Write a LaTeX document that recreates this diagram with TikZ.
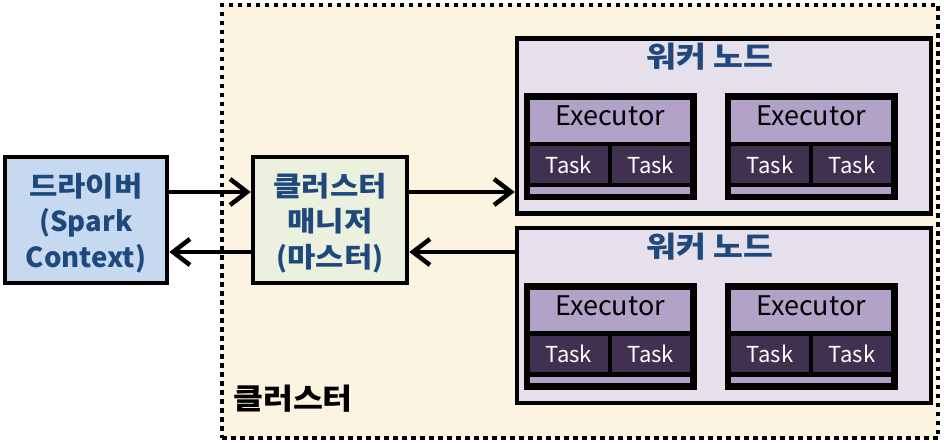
\documentclass[tikz,border=0pt]{standalone}
\usepackage{fontspec}
\newfontfamily\kr{Noto Sans CJK KR}
\newfontfamily\krw{Noto Sans CJK KR}[FakeStretch=1.12]
\usetikzlibrary{arrows.meta}
\definecolor{clusterfill}{HTML}{FCF3E0}
\definecolor{driverfill}{HTML}{C6D9F1}
\definecolor{managerfill}{HTML}{EBF1DE}
\definecolor{workerfill}{HTML}{E5E0EC}
\definecolor{headfill}{HTML}{B3A2C7}
\definecolor{taskfill}{HTML}{403151}
\definecolor{txtblue}{HTML}{1F497D}
\tikzset{
  box/.style={draw=black, line width=4.5pt, inner sep=0pt},
  bigtext/.style={font=\kr\bfseries\fontsize{27.5}{35.5}\selectfont, text=txtblue, align=center},
  arr/.style={line width=4.5pt, -{Straight Barb[length=17pt,width=26pt]}},
  exectext/.style={font=\kr\fontsize{27}{30}\selectfont, text=black},
  tasktext/.style={font=\kr\fontsize{22}{24}\selectfont, text=white},
}
\begin{document}
\begin{tikzpicture}[x=1pt,y=-1pt]
\useasboundingbox (0,0) rectangle (944,443);
% cluster
\node[box, fill=clusterfill, dash pattern=on 4.5pt off 4.5pt, minimum width=716pt, minimum height=433pt] (cluster) at (580,221.5) {};
\node[font=\krw\bfseries\fontsize{29}{30}\selectfont, text=black] (clusterlabel) at (293,399) {클러스터};
% driver and manager
\node[box, fill=driverfill, minimum width=162pt, minimum height=126pt] (driver) at (86,220) {};
\node[bigtext] (drivertext) at (86,223) {{\krw 드라이버}\\(Spark\\Context)};
\node[box, fill=managerfill, minimum width=154pt, minimum height=126pt] (manager) at (330,220) {};
\node[bigtext] (managertext) at (330,223) {{\krw 클러스터}\\{\krw 매니저}\\({\krw 마스터})};
% workers
\foreach \w/\cy in {1/126, 2/315.5}{
  \node[box, fill=workerfill, minimum width=414pt, minimum height=175pt] (worker\w) at (724,\cy) {};
  \node[bigtext, font=\krw\bfseries\fontsize{29}{30}\selectfont] (wtitle\w) at (710,\cy-69) {워커 노드};
  \foreach \e/\cx in {1/610, 2/811}{
    \node[box, fill=headfill, minimum width=164pt, minimum height=98pt] (exec\w\e) at (\cx,\cy+21) {};
    \node[exectext] (exectext\w\e) at (\cx,\cy-10) {Executor};
    \node[box, fill=taskfill, minimum width=82pt, minimum height=41pt] (taskA\w\e) at (\cx-41,\cy+38.5) {};
    \node[box, fill=taskfill, minimum width=82pt, minimum height=41pt] (taskB\w\e) at (\cx+41,\cy+38.5) {};
    \node[tasktext] at (taskA\w\e) {Task};
    \node[tasktext] at (taskB\w\e) {Task};
    \draw[line width=4.5pt] (exec\w\e.north west) rectangle (exec\w\e.south east);
  }
}
% arrows
\coordinate (d1) at ([yshift=28pt]driver.east);
\coordinate (d2) at ([yshift=-32pt]driver.east);
\coordinate (m1) at ([yshift=28pt]manager.east);
\coordinate (m2) at ([yshift=-32pt]manager.east);
\draw[arr] (d1) -- (d1 -| manager.west);
\draw[arr] (d2 -| manager.west) -- (d2);
\draw[arr] (m1) -- (m1 -| worker1.west);
\draw[arr] (m2 -| worker2.west) -- (m2);
\end{tikzpicture}
\end{document}
